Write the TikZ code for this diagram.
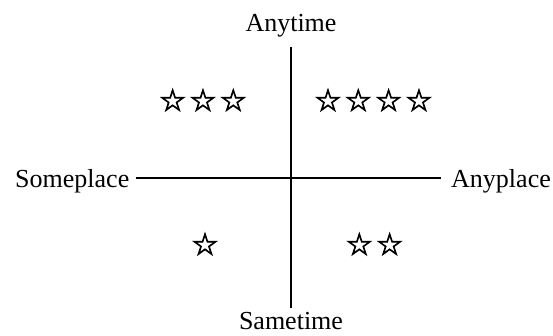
\documentclass[tikz,border=0pt]{standalone}
\usepackage{fontspec}
\setmainfont{Liberation Serif}
\newfontfamily\starfont[FakeBold=2.5]{DejaVu Sans}
\begin{document}
\begin{tikzpicture}[x=1pt,y=-1pt,
  lbl/.style={inner sep=0pt,font=\fontsize{26}{30}\selectfont},
  stars/.style={inner sep=0pt,font=\starfont\fontsize{30.5}{32}\selectfont},
  axis/.style={line width=1.6pt}]
\useasboundingbox (0,0) rectangle (553,335);
\node[lbl,anchor=base] (anytime) at (291,31) {Anytime};
\node[lbl,anchor=base] (sametime) at (291,329) {Sametime};
\node[lbl,anchor=base east] (someplace) at (129.5,187) {Someplace};
\node[lbl,anchor=base west] (anyplace) at (451,187) {Anyplace};
\coordinate (N) at (291,47);
\coordinate (S) at (291,308);
\coordinate (W) at (136,178);
\coordinate (E) at (441,178);
\draw[axis] (N) -- (S);
\draw[axis] (W) -- (E);
\node[stars] (q2) at (203,100) {☆\hspace{3pt}☆\hspace{3pt}☆};
\node[stars] (q1) at (373.5,100) {☆\hspace{3pt}☆\hspace{3pt}☆\hspace{3pt}☆};
\node[stars] (q3) at (205,244) {☆};
\node[stars] (q4) at (374.5,244) {☆\hspace{3pt}☆};
\end{tikzpicture}
\end{document}
